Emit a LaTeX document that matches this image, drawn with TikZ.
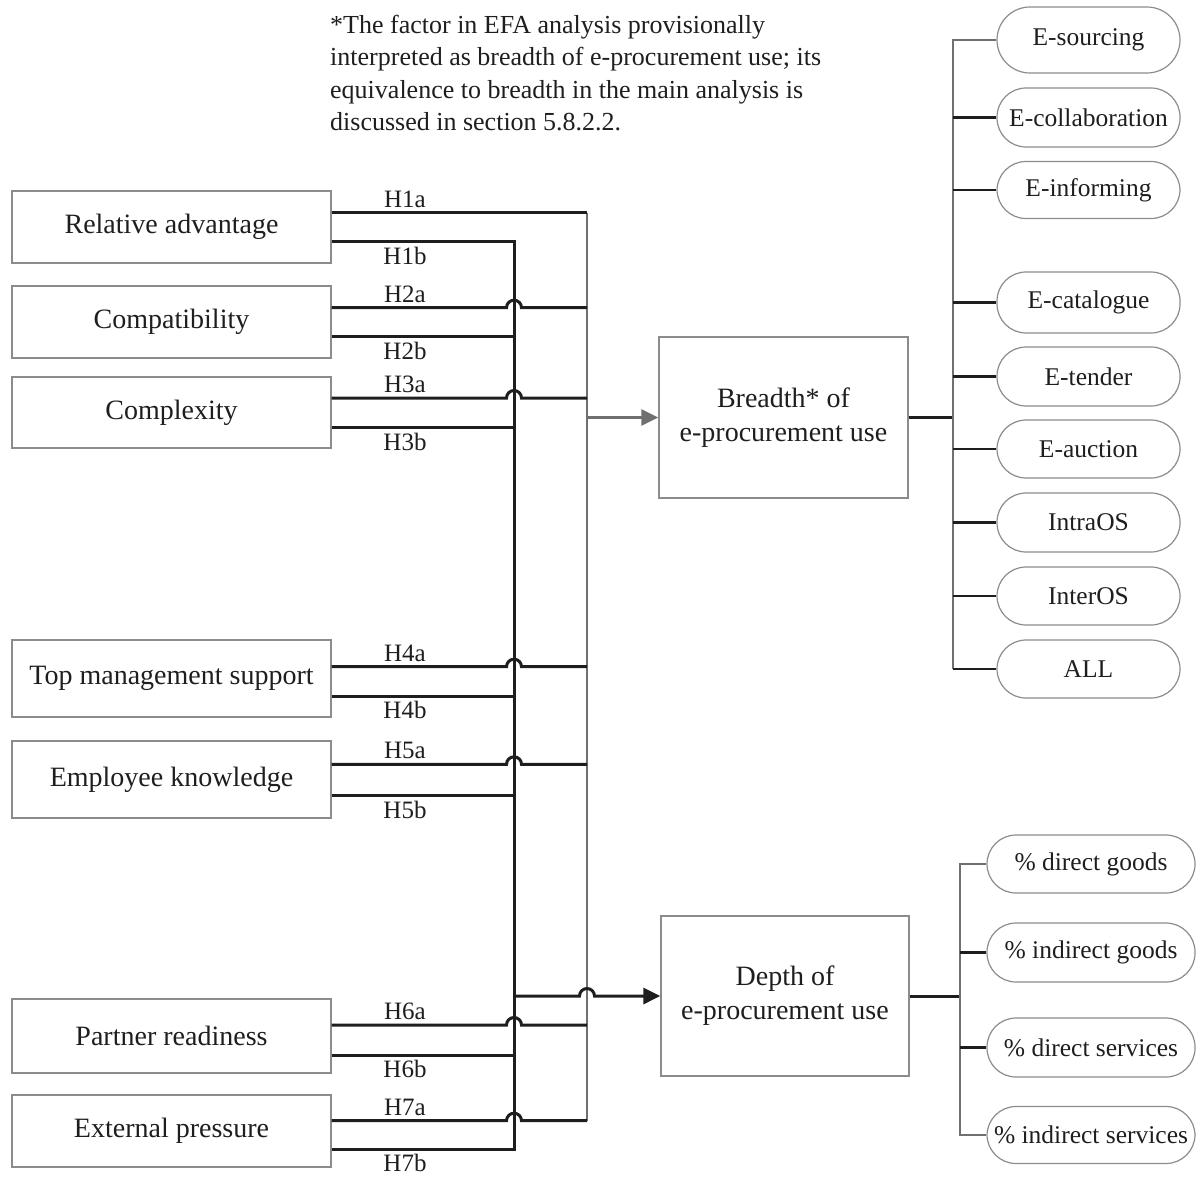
\documentclass[tikz,border=0pt]{standalone}
\usepackage{fontspec}
\setmainfont{Liberation Serif}
\usetikzlibrary{arrows.meta,calc}
\definecolor{ink}{HTML}{1E1E1E}
\definecolor{wire}{HTML}{707070}
\definecolor{frame}{HTML}{8C8C8C}

\begin{document}
\begin{tikzpicture}[x=1pt,y=-1pt,
  every node/.style={text=ink},
  factor/.style={draw=frame, line width=1.3pt, minimum width=319pt, inner sep=0pt,
    font=\fontsize{28}{34}\selectfont},
  outcome/.style={draw=frame, line width=1.3pt, align=center, inner sep=0pt,
    font=\fontsize{28}{34}\selectfont},
  pill/.style={draw=frame, line width=1.2pt, rounded corners=29pt, minimum width=183pt,
    minimum height=59pt, inner sep=0pt, font=\fontsize{25.5}{30}\selectfont},
  widepill/.style={pill, minimum width=208pt},
  hyp/.style={font=\fontsize{25}{30}\selectfont, inner sep=0pt, anchor=base},
  link/.style={draw=ink, line width=3pt},
  branch/.style={draw=ink, line width=2.6pt},
  collect/.style={draw=wire, line width=2.7pt},
  tip/.style={-{Triangle[length=17pt,width=16pt]}}
]
\useasboundingbox (0,0) rectangle (1204,1176);

% footnote on the breadth factor
\node[anchor=north west, inner sep=0pt, align=left, font=\fontsize{26}{32.3}\selectfont]
  (note) at (330,15)
  {*The factor in EFA analysis provisionally\\
   interpreted as breadth of e-procurement use; its\\
   equivalence to breadth in the main analysis is\\
   discussed in section 5.8.2.2.};

% antecedent factors
\node[factor, minimum height=72pt] (ra)   at (171.5,227)   {Relative advantage};
\node[factor, minimum height=72pt] (comp) at (171.5,322)   {Compatibility};
\node[factor, minimum height=71pt] (cplx) at (171.5,412.5) {Complexity};
\node[factor, minimum height=77pt] (tms)  at (171.5,678.5) {Top management support};
\node[factor, minimum height=77pt] (ek)   at (171.5,779.5) {Employee knowledge};
\node[factor, minimum height=74pt] (pr)   at (171.5,1036)  {Partner readiness};
\node[factor, minimum height=72pt] (ep)   at (171.5,1131)  {External pressure};

% outcomes
\node[outcome, minimum width=249pt, minimum height=161pt] (br) at (783.5,417.5)
  {Breadth* of\\e-procurement use};
\node[outcome, minimum width=248pt, minimum height=160pt] (dp) at (785,996)
  {Depth of\\e-procurement use};

% breadth indicators
\node[pill, minimum height=66pt, rounded corners=33pt] (es) at (1088.5,40) {E-sourcing};
\node[pill] (ec)  at (1088.5,117.5) {E-collaboration};
\node[pill, minimum height=57pt] (ei)  at (1088.5,190) {E-informing};
\node[pill, minimum height=61pt] (eca) at (1088.5,302.5) {E-catalogue};
\node[pill] (et)  at (1088.5,376.5) {E-tender};
\node[pill, minimum height=58pt] (ea)  at (1088.5,449) {E-auction};
\node[pill] (io)  at (1088.5,522.5) {IntraOS};
\node[pill, minimum height=58pt] (ie)  at (1088.5,596) {InterOS};
\node[pill, minimum height=58pt] (all) at (1088.5,669) {ALL};

% depth indicators
\node[widepill, minimum height=58pt] (dg) at (1091,864)    {\% direct goods};
\node[widepill] (ig) at (1091,952.5)  {\% indirect goods};
\node[widepill] (ds) at (1091,1047.5) {\% direct services};
\node[widepill, minimum height=57pt] (is) at (1091,1135) {\% indirect services};

% bus coordinates
\coordinate (gtop) at (587,212.7);
\coordinate (gbot) at (587,1120.7);
\coordinate (gout) at (587,417.5);
\coordinate (dout) at (514,996);
\coordinate (bsplit) at (953,417.5);
\coordinate (dsplit) at (960,996);

% grey collector feeding breadth
\draw[collect] (gtop) -- (gbot);
\draw[collect, tip] (gout) -- (br.west);

% paths towards breadth (a), hopping over the depth bus
\draw[link] (ra.east |- gtop) -- (gtop);
\foreach \n/\y in {comp/307.7, cplx/398, tms/666.7, ek/764.3, pr/1025, ep/1120.7}
  \draw[link] (\n.east |- 0,\y) -- (506.5,\y)
    arc[start angle=180, end angle=0, radius=7.5pt] -- (587,\y);

% paths towards depth (b) joined on the black bus
\draw[link, line join=miter] (ra.east |- 0,241.7) -- (514,241.7) -- (514,1149.3)
  -- (ep.east |- 0,1149.3);
\foreach \n/\y in {comp/336.7, cplx/427.7, tms/696, ek/795.7, pr/1055}
  \draw[link] (\n.east |- 0,\y) -- (514,\y);
\draw[link, tip] (dout) -- (579.5,996)
  arc[start angle=180, end angle=0, radius=7.5pt] -- (dp.west);

% hypothesis labels
\foreach \k/\y in {1/212.7, 2/307.7, 3/398, 4/666.7, 5/764.3, 6/1025, 7/1120.7}
  \node[hyp] (h\k a) at (405,\y-5.5) {H\k a};
\foreach \k/\y in {1/241.7, 2/336.7, 3/427.7, 4/696, 5/795.7, 6/1055, 7/1149.3}
  \node[hyp] (h\k b) at (405,\y+22.5) {H\k b};

% breadth indicator tree
\draw[link] (br.east) -- (bsplit);
\draw[collect, line join=miter] (es.west) -- (es.west -| bsplit) -- (all.west -| bsplit);
\foreach \p in {ec, ei, eca, et, ea, io, ie, all}
  \draw[branch] (\p.west -| bsplit) -- (\p.west);

% depth indicator tree
\draw[link] (dp.east) -- (dsplit);
\draw[collect, line join=miter] (dg.west) -- (dg.west -| dsplit) -- (is.west -| dsplit) -- (is.west);
\foreach \p in {ig, ds}
  \draw[branch] (\p.west -| dsplit) -- (\p.west);
\end{tikzpicture}
\end{document}
